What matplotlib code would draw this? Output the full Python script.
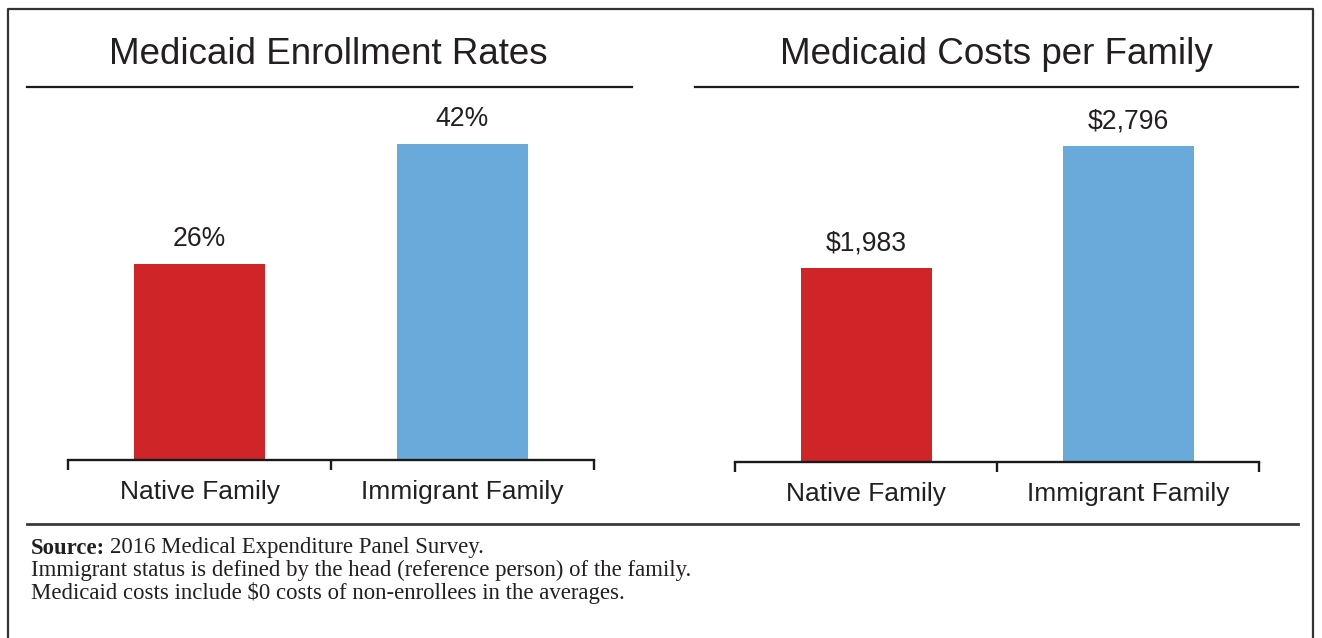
import matplotlib.pyplot as plt
from matplotlib.lines import Line2D

W, H = 1322, 638
categories = ["Native Family", "Immigrant Family"]
enroll_rates = [26, 42]
enroll_labels = ["26%", "42%"]
costs = [1983, 2796]
cost_labels = ["$1,983", "$2,796"]
titles = ["Medicaid Enrollment Rates", "Medicaid Costs per Family"]
colors = ["#CF2428", "#6AAADB"]
source_label = "Source:"
notes = [
    "2016 Medical Expenditure Panel Survey.",
    "Immigrant status is defined by the head (reference person) of the family.",
    "Medicaid costs include $0 costs of non-enrollees in the averages.",
]

plt.rcParams['font.family'] = ['Liberation Sans', 'DejaVu Sans']
TXT = "#231f20"
fig = plt.figure(figsize=(W / 100, H / 100), dpi=100)
renderer = fig.canvas.get_renderer()
PX2PT = 72 / 100


def fx(px):
    return px / W


def fy(py):
    return 1 - py / H


def width_of(t):
    return t.get_window_extent(renderer).width


def fit(t, target):
    t.set_fontsize(t.get_fontsize() * target / width_of(t))
    return t.get_fontsize()


def add_ax(x0, x1, ytop, ybot):
    return fig.add_axes([fx(x0), fy(ybot), fx(x1) - fx(x0), fy(ytop) - fy(ybot)])


# sizes fitted to reference text widths
probe = fig.text(0, 0, categories[0], fontsize=18)
cat_size = fit(probe, 159)
probe.remove()
probe = fig.text(0, 0, cost_labels[1], fontsize=18)
val_size = fit(probe, 81)
probe.remove()


def style(ax, values, labels, ylim):
    x = [0.5, 1.5]
    ax.bar(x, values, width=0.5, color=colors, zorder=2)
    ax.set_xlim(0, 2)
    ax.set_ylim(*ylim)
    for s in ["top", "left", "right"]:
        ax.spines[s].set_visible(False)
    ax.spines["bottom"].set_linewidth(1.7)
    ax.spines["bottom"].set_color("#1a1a1a")
    ax.set_yticks([])
    ax.set_xticks([0, 1, 2])
    ax.set_xticklabels([])
    ax.tick_params(axis="x", which="major", direction="out", length=7, width=1.7, color="#1a1a1a")
    for xi, cat in zip(x, categories):
        ax.annotate(cat, (xi, 0), xycoords=("data", "axes fraction"),
                    xytext=(0, -39 * PX2PT), textcoords="offset points",
                    ha="center", va="baseline", fontsize=cat_size, color=TXT)
    for xi, v, lab in zip(x, values, labels):
        ax.annotate(lab, (xi, v), xytext=(0, 18 * PX2PT), textcoords="offset points",
                    ha="center", va="baseline", fontsize=val_size, color=TXT)


ax1 = add_ax(68, 594, 87, 460)
style(ax1, enroll_rates, enroll_labels, (0, (460 - 87) / 7.53))

ax2 = add_ax(735, 1259, 87, 462)
style(ax2, costs, cost_labels, (690, 690 + (462 - 87) / 0.15))

# titles
t1 = fig.text(fx(328), fy(64), titles[0], ha="center", va="baseline", fontsize=26, color=TXT)
tsize = fit(t1, 439)
fig.text(fx(996), fy(64), titles[1], ha="center", va="baseline", fontsize=tsize, color=TXT)

# rules
lc = "#1a1a1a"
fig.add_artist(Line2D([fx(27), fx(632)], [fy(86.5), fy(86.5)], color=lc, lw=1.6))
fig.add_artist(Line2D([fx(695), fx(1298)], [fy(86.5), fy(86.5)], color=lc, lw=1.6))
fig.add_artist(Line2D([fx(27), fx(1298)], [fy(523.5), fy(523.5)], color="#3a3a3a", lw=2))

# border
fig.add_artist(Line2D([fx(8), fx(8), fx(1313), fx(1313)], [fy(645), fy(9), fy(9), fy(645)],
                      color="#333333", lw=1.6))

# source notes
serif = ['Liberation Serif', 'DejaVu Serif']
l2 = fig.text(fx(31), fy(576), notes[1], ha="left", va="baseline", fontsize=14,
              family=serif, color=TXT)
ssize = fit(l2, 662)
fig.text(fx(31), fy(598.5), notes[2], ha="left", va="baseline", fontsize=ssize,
         family=serif, color=TXT)
src = fig.text(fx(31), fy(553.5), source_label, ha="left", va="baseline", fontsize=ssize,
               family=serif, fontweight="bold", color=TXT)
sw = width_of(src)
fig.text(fx(31 + sw + 5), fy(553.5), notes[0], ha="left", va="baseline", fontsize=ssize,
         family=serif, color=TXT)

fig.savefig("out.png", dpi=100, facecolor="white")
